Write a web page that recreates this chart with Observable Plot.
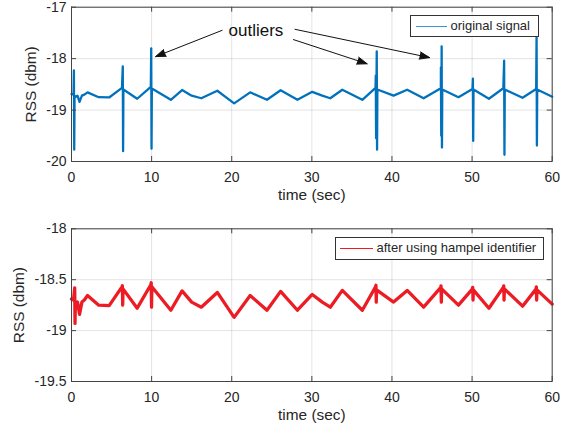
<!DOCTYPE html>
<html>
<head>
<meta charset="utf-8">
<script src="https://cdn.jsdelivr.net/npm/d3@7"></script>
<script src="https://cdn.jsdelivr.net/npm/@observablehq/plot@0.6"></script>
<style>
  html, body { margin: 0; padding: 0; background: #fff; }
  #chart { position: relative; width: 570px; height: 433px; font-family: "Liberation Sans", Arial, sans-serif; color: #262626; }
  #chart svg { display: block; }
  .legend { position: absolute; box-sizing: border-box; border: 1px solid #333; background: #fff; font-size: 13px; }
  .legend .swatch { position: absolute; height: 0; }
  .legend .lab { position: absolute; white-space: nowrap; line-height: 1; }
</style>
</head>
<body>
<div id="chart">
  <div id="top"></div>
  <div id="bottom"></div>
</div>
<script>
// ---------- data ----------
const xTicks = [0, 10, 20, 30, 40, 50, 60];
const yTicksTop = [-20, -19, -18, -17];
const yTicksBottom = [-19.5, -19, -18.5, -18];

// slow RSS oscillation (peaks / troughs), seconds and dBm
const baseTime = [0, 0.25, 0.6, 0.75, 1.0, 1.3, 1.6, 2.0, 3.4, 4.7, 6.3, 8.2, 9.9, 12.4, 13.8, 15.0, 16.2, 18.2,
  20.3, 22.3, 24.4, 26.1, 28.2, 30.05, 31.3, 32.3, 33.8, 36.3, 37.95, 40.2, 41.9, 43.95, 46.1, 48.3,
  50.05, 52.1, 53.9, 56.3, 58.0, 60];
const baseRss = [-18.69, -18.70, -18.74, -18.72, -18.84, -18.72, -18.70, -18.655, -18.75, -18.755, -18.57, -18.78,
  -18.55, -18.80, -18.61, -18.72, -18.77, -18.625, -18.87, -18.655, -18.80, -18.615, -18.80, -18.645,
  -18.72, -18.77, -18.605, -18.80, -18.57, -18.72, -18.605, -18.77, -18.575, -18.75, -18.59, -18.78,
  -18.575, -18.76, -18.59, -18.74];

// outlier bursts in the original signal
const spikeTime = [0.3, 6.4, 9.95, 37.98, 38.1, 46.11, 46.2, 50.1, 54.0, 58.05];
const spikeHigh = [-18.23, -18.15, -17.80, -18.33, -17.86, -18.17, -17.76, -18.39, -18.04, -17.52];
const spikeLow = [-19.77, -19.80, -19.75, -19.55, -19.77, -19.50, -19.73, -19.60, -19.87, -19.69];
const spikeBack = [-18.72, -18.60, -18.58, -18.60, -18.60, -18.60, -18.60, -18.60, -18.60, -18.60];

// small residual ticks left after the Hampel identifier
const resTime = [0.4, 6.35, 9.95, 38.0, 46.12, 50.08, 53.95, 58.02];
const resHigh = [-18.58, -18.56, -18.53, -18.555, -18.56, -18.575, -18.56, -18.57];
const resLow = [-18.93, -18.75, -18.77, -18.72, -18.72, -18.70, -18.70, -18.70];
const resBack = [-18.74, -18.59, -18.57, -18.60, -18.59, -18.60, -18.59, -18.60];

// annotation "outliers" and its three arrows (data units)
const noteText = ["outliers"];
const noteX = [19.6];
const noteY = [-17.45];
const arrowX1 = [18.8, 27.7, 27.9];
const arrowY1 = [-17.45, -17.63, -17.43];
const arrowX2 = [10.5, 36.9, 44.7];
const arrowY2 = [-17.96, -18.10, -17.98];

const legendTop = "original signal";
const legendBottom = "after using hampel identifier";
const xLabel = "time (sec)";
const yLabel = "RSS (dbm)";

const blue = "#0072BD";
const red = "#ED1C24";
const ink = "#262626";

// ---------- build series ----------
function buildSeries(times, values, sT, sH, sL, sB) {
  const pts = times.map((t, i) => ({t, v: values[i]}));
  sT.forEach((t, i) => {
    pts.push({t, v: sH[i]}, {t: t + 0.04, v: sL[i]}, {t: t + 0.08, v: sB[i]});
  });
  return pts.sort((a, b) => a.t - b.t);
}
const original = buildSeries(baseTime, baseRss, spikeTime, spikeHigh, spikeLow, spikeBack);
const filtered = buildSeries(baseTime, baseRss, resTime, resHigh, resLow, resBack);

function panel({height, marginTop, marginBottom, yDomain, yTicks, data, color, strokeWidth, labelDx, extra = []}) {
  const [y0, y1] = yDomain;
  return Plot.plot({
    width: 570,
    height,
    marginLeft: 71,
    marginRight: 18.3,
    marginTop,
    marginBottom,
    style: {fontFamily: '"Liberation Sans", Arial, sans-serif', color: ink, background: "#fff", overflow: "visible"},
    x: {domain: [0, 60]},
    y: {domain: yDomain},
    marks: [
      Plot.gridX(xTicks, {stroke: ink, strokeOpacity: 0.13}),
      Plot.gridY(yTicks, {stroke: ink, strokeOpacity: 0.13}),
      Plot.line(data, {x: "t", y: "v", stroke: color, strokeWidth, strokeLinejoin: "round"}),
      Plot.frame({stroke: "#444", strokeWidth: 1}),
      // inward tick marks on all four edges
      Plot.ruleX(xTicks, {x: d => d, y1: y0, y2: y0, insetTop: -5, stroke: "#444"}),
      Plot.ruleX(xTicks, {x: d => d, y1: y1, y2: y1, insetBottom: -5, stroke: "#444"}),
      Plot.ruleY(yTicks, {y: d => d, x1: 0, x2: 0, insetRight: -5, stroke: "#444"}),
      Plot.ruleY(yTicks, {y: d => d, x1: 60, x2: 60, insetLeft: -5, stroke: "#444"}),
      Plot.axisX(xTicks, {tickSize: 0, tickPadding: 10.5, fontSize: 14, label: null, tickFormat: d => String(d)}),
      Plot.axisY(yTicks, {tickSize: 0, tickPadding: 5, fontSize: 14, label: null, tickFormat: d => String(d)}),
      Plot.text([xLabel], {text: d => d, frameAnchor: "bottom", textAnchor: "middle", lineAnchor: "middle", dy: 34, fontSize: 15.4, fill: ink}),
      Plot.text([yLabel], {text: d => d, frameAnchor: "left", textAnchor: "middle", lineAnchor: "middle", rotate: -90, dx: labelDx, fontSize: 15.4, fill: ink}),
      ...extra
    ]
  });
}

const arrows = arrowX1.map((x1, i) => ({x1, y1: arrowY1[i], x2: arrowX2[i], y2: arrowY2[i]}));
const notes = noteText.map((s, i) => ({s, x: noteX[i], y: noteY[i]}));

const topPlot = panel({
  height: 210, marginTop: 6.7, marginBottom: 49,
  yDomain: [-20, -17], yTicks: yTicksTop, data: original, color: blue, strokeWidth: 2.3, labelDx: -40.3,
  extra: [
    Plot.arrow(arrows, {x1: "x1", y1: "y1", x2: "x2", y2: "y2", stroke: "#111", fill: "#111", strokeWidth: 1,
      headLength: 16, headAngle: 40,
      render: (i, s, v, d, c, next) => { const g = next(i, s, v, d, c); d3.select(g).selectAll("path").attr("fill", "#111"); return g; }}),
    Plot.text(notes, {x: "x", y: "y", text: "s", textAnchor: "start", lineAnchor: "middle", fontSize: 17, fill: "#111"})
  ]
});
document.getElementById("top").appendChild(topPlot);

const bottomPlot = panel({
  height: 223, marginTop: 18.3, marginBottom: 52,
  yDomain: [-19.5, -18], yTicks: yTicksBottom, data: filtered, color: red, strokeWidth: 3.3, labelDx: -52.7
});
document.getElementById("bottom").appendChild(bottomPlot);

// ---------- legends ----------
function addLegend({left, top, width, height, color, text, x1, x2, textLeft}) {
  const box = document.createElement("div");
  box.className = "legend";
  Object.assign(box.style, {left: left + "px", top: top + "px", width: width + "px", height: height + "px"});
  const sw = document.createElement("div");
  sw.className = "swatch";
  Object.assign(sw.style, {left: (x1 - left - 1) + "px", width: (x2 - x1) + "px", top: (height / 2 - 1.5) + "px", borderTop: "1.5px solid " + color});
  const lab = document.createElement("div");
  lab.className = "lab";
  lab.textContent = text;
  Object.assign(lab.style, {left: (textLeft - left - 1) + "px", top: (height / 2 - 8.5) + "px"});
  box.appendChild(sw);
  box.appendChild(lab);
  document.getElementById("chart").appendChild(box);
}
addLegend({left: 410, top: 15, width: 128.5, height: 22, color: "#3d93cf", text: legendTop, x1: 416, x2: 447, textLeft: 450.5});
addLegend({left: 335, top: 237, width: 208.5, height: 22.5, color: red, text: legendBottom, x1: 340, x2: 373, textLeft: 376.5});
</script>
</body>
</html>
